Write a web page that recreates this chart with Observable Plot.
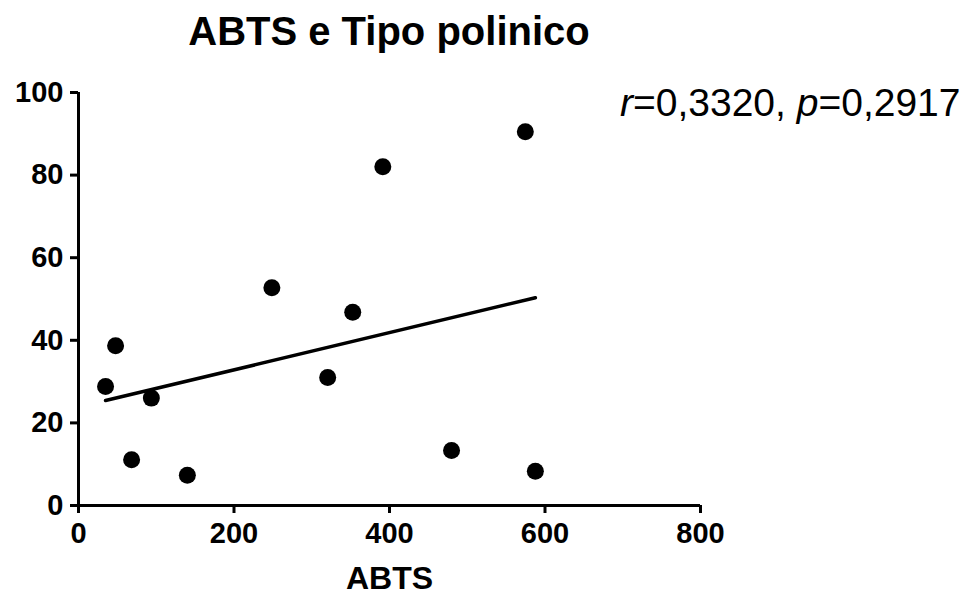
<!DOCTYPE html>
<html>
<head>
<meta charset="utf-8">
<script src="https://cdn.jsdelivr.net/npm/d3@7"></script>
<script src="https://cdn.jsdelivr.net/npm/@observablehq/plot@0.6"></script>
<style>
  html, body { margin: 0; padding: 0; background: #fff; }
  #wrap { position: relative; width: 973px; height: 596px; overflow: hidden; font-family: "Liberation Sans", Arial, sans-serif; color: #000; }
  #title { position: absolute; left: 0; width: 778px; top: 11px; text-align: center; font-size: 40px; line-height: 40px; font-weight: bold; }
  #stat { position: absolute; left: 620px; top: 83px; font-size: 39px; line-height: 39px; white-space: nowrap; }
  #chart { position: absolute; left: 0; top: 70px; }
</style>
</head>
<body>
<div id="wrap">
  <div id="title">ABTS e Tipo polinico</div>
  <div id="chart"></div>
  <div id="stat"><i>r</i>=0,3320, <i>p</i>=0,2917</div>
</div>
<script>
const abts = [34.8, 47.7, 68.3, 93.7, 140, 248.7, 320.5, 352.7, 391.4, 479.8, 574.7, 587.6];
const tipo = [28.8, 38.7, 11.1, 26.0, 7.3, 52.7, 31.0, 46.8, 82.0, 13.3, 90.5, 8.3];
const xTicks = [0, 200, 400, 600, 800];
const yTicks = [0, 20, 40, 60, 80, 100];
const xLabel = "ABTS";

const data = abts.map((x, i) => ({x, y: tipo[i]}));

const chart = Plot.plot({
  width: 973,
  height: 526,
  marginLeft: 78,
  marginRight: 273,
  marginTop: 22,
  marginBottom: 91,
  style: {fontFamily: "'Liberation Sans', Arial, sans-serif", color: "#000", background: "#fff", overflow: "visible"},
  x: {domain: [0, 800], nice: false},
  y: {domain: [0, 100], nice: false},
  marks: [
    Plot.axisX(xTicks, {tickSize: 0, tickPadding: 17, fontSize: 29, fontWeight: "bold", label: null}),
    Plot.axisY(yTicks, {tickSize: 0, tickPadding: 15, fontSize: 29, fontWeight: "bold", label: null}),
    Plot.ruleX(xTicks, {y1: 0, y2: 0, insetBottom: -8, stroke: "#000", strokeWidth: 3}),
    Plot.ruleY(yTicks, {x1: 0, x2: 0, insetLeft: -8, stroke: "#000", strokeWidth: 3}),
    Plot.ruleY([0], {stroke: "#000", strokeWidth: 3}),
    Plot.ruleX([0], {stroke: "#000", strokeWidth: 3}),
    Plot.linearRegressionY(data, {x: "x", y: "y", ci: 0, stroke: "#000", strokeWidth: 3.5}),
    Plot.dot(data, {x: "x", y: "y", r: 8.5, fill: "#000", stroke: "none"}),
    Plot.text([xLabel], {frameAnchor: "bottom", lineAnchor: "top", dy: 61, fontSize: 32, fontWeight: "bold", fill: "#000"})
  ]
});
document.getElementById("chart").appendChild(chart);
</script>
</body>
</html>
